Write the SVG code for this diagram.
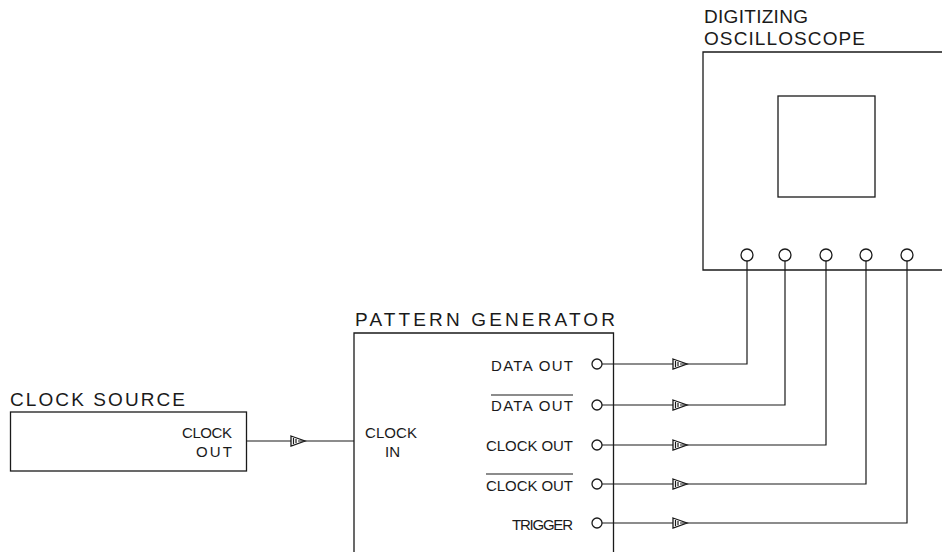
<svg xmlns="http://www.w3.org/2000/svg" width="942" height="552" viewBox="0 0 942 552">
<style>
  .box { fill: none; stroke: #1a1a1a; stroke-width: 1.3; }
  .wire { fill: none; stroke: #1a1a1a; stroke-width: 1.2; }
  .port { fill: #fff; stroke: #1a1a1a; stroke-width: 1.3; }
  .title { font-family: "Liberation Sans", Arial, sans-serif; font-size: 19px; fill: #1a1a1a; }
  .lbl { font-family: "Liberation Sans", Arial, sans-serif; font-size: 15px; fill: #1a1a1a; }
</style>
<defs>
  <marker id="arr" markerWidth="17" markerHeight="12" refX="8" refY="6" orient="auto" markerUnits="userSpaceOnUse">
    <polygon points="1,1 15,6 1,11" fill="#fff" stroke="#1a1a1a" stroke-width="1.3"/>
    <line x1="3.5" y1="3" x2="3.5" y2="9" stroke="#1a1a1a" stroke-width="1.2"/>
    <line x1="6" y1="4" x2="6" y2="8" stroke="#1a1a1a" stroke-width="1.2"/>
  </marker>
</defs>
<rect width="942" height="552" fill="#fff"/>

<g id="clock-source">
  <text class="title" x="10" y="406" textLength="175" lengthAdjust="spacing">CLOCK SOURCE</text>
  <rect class="box" x="10.5" y="412" width="236" height="59"/>
  <text class="lbl" x="182" y="438" textLength="50" lengthAdjust="spacing">CLOCK</text>
  <text class="lbl" x="196" y="457" textLength="36" lengthAdjust="spacing">OUT</text>
</g>

<g id="pattern-generator">
  <text class="title" x="355" y="326" textLength="260" lengthAdjust="spacing">PATTERN GENERATOR</text>
  <polyline class="box" points="354,560 354,333 613.5,333 613.5,560"/>
  <text class="lbl" x="365" y="438" textLength="52" lengthAdjust="spacing">CLOCK</text>
  <text class="lbl" x="385" y="457">IN</text>
  <text class="lbl" x="491" y="371" textLength="82" lengthAdjust="spacing">DATA OUT</text>
  <text class="lbl" x="491" y="411" textLength="82" lengthAdjust="spacing">DATA OUT</text>
  <line class="wire" x1="491" y1="395" x2="573" y2="395"/>
  <text class="lbl" x="486" y="451" textLength="87" lengthAdjust="spacing">CLOCK OUT</text>
  <text class="lbl" x="486" y="491" textLength="87" lengthAdjust="spacing">CLOCK OUT</text>
  <line class="wire" x1="486" y1="474" x2="573" y2="474"/>
  <text class="lbl" x="512" y="530" textLength="61" lengthAdjust="spacing">TRIGGER</text>
  <circle class="port" cx="597" cy="364" r="5"/>
  <circle class="port" cx="597" cy="405" r="5"/>
  <circle class="port" cx="597" cy="445" r="5"/>
  <circle class="port" cx="597" cy="484" r="5"/>
  <circle class="port" cx="597" cy="523" r="5"/>
</g>

<g id="oscilloscope">
  <text class="title" x="704" y="23" textLength="104" lengthAdjust="spacing">DIGITIZING</text>
  <text class="title" x="704" y="45" textLength="161" lengthAdjust="spacing">OSCILLOSCOPE</text>
  <polyline class="box" points="950,52 703,52 703,270 950,270"/>
  <rect class="box" x="778" y="96" width="97" height="101"/>
  <circle class="port" cx="747" cy="255" r="6"/>
  <circle class="port" cx="785" cy="255" r="6"/>
  <circle class="port" cx="826" cy="255" r="6"/>
  <circle class="port" cx="866" cy="255" r="6"/>
  <circle class="port" cx="907" cy="255" r="6"/>
</g>

<g id="connectors">
  <path class="wire" d="M247,441 H298" marker-end="url(#arr)"/>
  <path class="wire" d="M298,441 H354"/>
  <path class="wire" d="M602,364 H680" marker-end="url(#arr)"/>
  <path class="wire" d="M680,364 H747 V261"/>
  <path class="wire" d="M602,405 H680" marker-end="url(#arr)"/>
  <path class="wire" d="M680,405 H785 V261"/>
  <path class="wire" d="M602,445 H680" marker-end="url(#arr)"/>
  <path class="wire" d="M680,445 H826 V261"/>
  <path class="wire" d="M602,484 H680" marker-end="url(#arr)"/>
  <path class="wire" d="M680,484 H866 V261"/>
  <path class="wire" d="M602,523 H680" marker-end="url(#arr)"/>
  <path class="wire" d="M680,523 H907 V261"/>
</g>
</svg>
